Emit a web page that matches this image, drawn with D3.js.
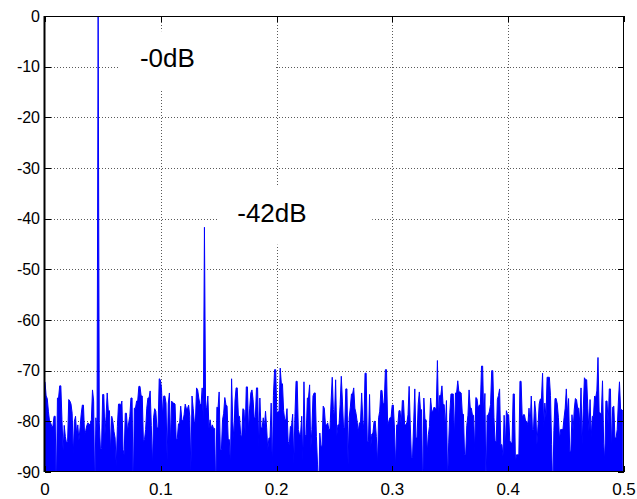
<!DOCTYPE html>
<html>
<head>
<meta charset="utf-8">
<script src="https://cdn.jsdelivr.net/npm/d3@7"></script>
<style>
  body { margin: 0; background: #fff; }
  text { font-family: Arial, "Liberation Sans", Helvetica, sans-serif; fill: #000; }
</style>
</head>
<body>
<script>
let width = 637;
let height = 499;

// spectrum in dB, 512 bins over normalized frequency 0..0.5 (bin k at k/1024)
let spectrumDb = [
  -72.2,-75,-75.5,-78,-80,-80.3,-81,-81,-79,-79,-95,-75.4,-75.4,-73,-73,-79.7,
  -85.8,-80.8,-83,-84.3,-84,-75.7,-76,-76.6,-78.4,-86.6,-80,-79,-82.6,-80.7,-83.8,-81.3,
  -78.6,-76.8,-76.8,-82.6,-81.8,-80.8,-80.3,-80.7,-80.5,-79.7,-73.8,-76,-95,-79.3,-82,0,
  -80.3,-85.4,-85.3,-74.7,-74.7,-82.6,-79,-74.4,-77.9,-77.9,-86.3,-79,-80,-82,-83.3,-88.9,
  -81,-76.6,-76.6,-76.8,-76,-85.6,-86.6,-78.4,-78.4,-82,-80.3,-79,-75.4,-75.4,-95,-77.4,
  -77.4,-76,-75.9,-73.1,-73.1,-75,-75,-84,-83.6,-81.6,-77.4,-75.4,-75.4,-74,-80.8,-89,
  -79.3,-77.5,-78,-81.3,-81.3,-71.6,-71.8,-73.4,-79,-75,-75,-76.4,-87.8,-76.6,-74.4,-84.6,
  -76,-76.4,-76.4,-76.6,-83.6,-83.4,-80.5,-80.5,-77,-79.7,-80,-78.7,-76.6,-77.5,-77.5,-76.8,
  -79,-90,-75,-77.4,-80,-80.3,-73.4,-73.8,-75.4,-76.7,-76.7,-73.4,-80,-41.7,-77.4,-77.2,
  -75,-81.4,-79.7,-81.4,-80.7,-81.4,-81.4,-95,-77.2,-77.4,-74.2,-85.6,-85.6,-79.7,-78.4,-75.3,
  -76.7,-77,-83.6,-83.6,-89,-71.6,-80,-83.3,-76,-73.4,-73.4,-79,-79,-82.6,-83.3,-77.5,
  -77.7,-82.3,-73.2,-73.2,-82,-77.4,-74.4,-73.8,-75.7,-79.3,-79.3,-73.4,-73.4,-85.3,-75.4,-81.3,
  -81.3,-79.3,-81.2,-78,-81.3,-85.6,-83.3,-83.3,-76.4,-90,-74.9,-69.8,-69.8,-78.2,-78.2,-78,
  -69.5,-72.6,-72.6,-77.9,-79.7,-79.7,-77.5,-84,-84.6,-81,-81,-78.6,-88.4,-79,-72.1,-72.1,
  -81.6,-82.6,-82.6,-79,-87.9,-72.2,-83,-82.6,-75.4,-75.4,-72.8,-85.6,-81.6,-75,-74.4,-74.4,
  -83,-88.6,-95,-82.3,-84.9,-84.9,-77,-77.4,-80.7,-80.7,-80.3,-81.6,-81.6,-76,-71.3,-77.7,
  -79.2,-71.8,-83,-80.7,-80.7,-76.7,-71.1,-76,-81.3,-81.3,-73.6,-73.6,-88.6,-79.3,-77.2,-74.6,
  -74.6,-73.4,-77.4,-78.4,-80,-82.1,-80.3,-80.3,-74.4,-79.7,-81.6,-70.5,-70.5,-84,-84,-74.7,
  -85.3,-82.5,-82.3,-80,-80,-83,-88.6,-79.3,-78,-73.9,-73.9,-76.6,-76.4,-69.8,-69.8,-80.7,
  -80,-79.3,-79.3,-76.8,-76.8,-81.3,-89.2,-80.7,-80.7,-77.9,-77.9,-80.7,-75.9,-75.9,-80.7,-80.7,
  -80.3,-78.7,-73.1,-80.7,-87.2,-87.2,-80.3,-73.6,-83.3,-83.3,-76.7,-74.2,-77.7,-77.7,-95,-75.4,
  -79.7,-79.7,-86.3,-82.6,-81,-75.4,-78,-78,-77.2,-77.4,-77.4,-68,-79.3,-74.9,-74.9,-73,
  -76.7,-76.7,-81.4,-75.9,-92,-84.1,-78.2,-74.6,-74.6,-74.6,-83.3,-74.4,-74.4,-72,-74.2,-74.2,
  -74.4,-78.4,-78.6,-86.6,-86.6,-80.8,-78.8,-73.8,-77.2,-77.4,-78.8,-78.8,-86,-75.3,-75.5,-77.4,
  -76.8,-76.8,-69.1,-69.1,-80,-74.5,-95,-78.8,-78.8,-78,-76.7,-70,-70,-79.2,-84,-84,
  -75.7,-74.9,-73.6,-84.6,-84.6,-86.9,-78.8,-85.6,-77.9,-78.7,-78.7,-83.8,-84.3,-84.3,-74.6,-74.6,
  -88,-86.6,-86.6,-86.6,-72.1,-72.1,-79.3,-78.7,-78.7,-80,-80,-80.7,-77.4,-80.7,-75,-81.6,
  -81.6,-76,-78.4,-84.6,-80.7,-76.6,-75.6,-75.6,-70.5,-81.3,-76.4,-79.3,-71.3,-71.3,-71.3,-74.9,
  -84.6,-95,-81.8,-75.5,-75.5,-76.6,-79.3,-83.6,-81.6,-81.6,-81.6,-79.3,-77.4,-73.6,-78.6,-75.5,
  -85.9,-85.9,-78.7,-81.8,-77.7,-75.5,-75.7,-77.4,-77.4,-80.7,-73.4,-84.6,-77.4,-71.4,-71.8,-71.8,
  -77.4,-82,-75.7,-83.2,-79,-79,-75,-75.3,-74,-67.4,-78.2,-78.4,-78.4,-72,-84.3,-87.9,
  -76,-76,-80.7,-73.6,-73.6,-85.6,-77.2,-77,-83.3,-83.3,-81.6,-76.2,-72.2,-77.7,-77.7,-78
];
let fftSize = 1024;

let xTicks = [0, 0.1, 0.2, 0.3, 0.4, 0.5];
let yTicks = [0, -10, -20, -30, -40, -50, -60, -70, -80, -90];

// peak annotations
let noteText = ["-0dB", "-42dB"];
let noteFreq = [0.082, 0.166];
let noteDb = [-10.1, -40.6];

let svg = d3.select("body").append("svg")
            .attr("width", width)
            .attr("height", height);

let x = d3.scaleLinear().domain([0, 0.5]).range([45, 624]);
let y = d3.scaleLinear().domain([-90, 0]).range([472, 16]);

let data = spectrumDb.map(function (v, i) { return { f: i / fftSize, db: v }; });

svg.append("defs").append("clipPath")
   .attr("id", "plotclip")
   .append("rect")
   .attr("x", 45).attr("y", 16)
   .attr("width", 579).attr("height", 456);

// dotted grid
let grid = svg.append("g").attr("stroke", "#5a5a5a").attr("stroke-width", 1)
              .attr("stroke-dasharray", "1,2");
grid.selectAll(".gx").data(xTicks.slice(1, -1)).enter().append("line")
    .attr("x1", function (d) { return Math.round(x(d)) + 0.5; })
    .attr("x2", function (d) { return Math.round(x(d)) + 0.5; })
    .attr("y1", 16).attr("y2", 472);
grid.selectAll(".gy").data(yTicks.slice(1, -1)).enter().append("line")
    .attr("y1", function (d) { return Math.round(y(d)) + 0.5; })
    .attr("y2", function (d) { return Math.round(y(d)) + 0.5; })
    .attr("x1", 45).attr("x2", 624);

// annotation text with white backing that hides the grid
let notes = svg.append("g");
noteText.forEach(function (t, i) {
  let g = notes.append("g");
  let bg = g.append("rect").attr("fill", "#fff");
  let txt = g.append("text")
             .attr("x", x(noteFreq[i]))
             .attr("y", y(noteDb[i]))
             .attr("font-size", 26)
             .text(t);
  let bb = txt.node().getBBox();
  bg.attr("x", bb.x - 20).attr("y", bb.y - 12)
    .attr("width", 155).attr("height", bb.height + 29);
});

// spectrum: filled trace down to the bottom of the axes, plus the line itself
let plot = svg.append("g").attr("clip-path", "url(#plotclip)");
let area = d3.area()
             .x(function (d) { return x(d.f); })
             .y0(y(-90) + 2)
             .y1(function (d) { return y(d.db); });
plot.append("path").datum(data)
    .attr("d", area)
    .attr("fill", "#0000ff");
let line = d3.line()
             .x(function (d) { return x(d.f); })
             .y(function (d) { return y(d.db); });
plot.append("path").datum(data)
    .attr("d", line)
    .attr("fill", "none")
    .attr("stroke", "#0000ff")
    .attr("stroke-width", 1);

// axes box
svg.append("rect")
   .attr("x", 44.5).attr("y", 16.5)
   .attr("width", 579).attr("height", 455)
   .attr("fill", "none").attr("stroke", "#000").attr("stroke-width", 1);
svg.append("line").attr("x1", 44.5).attr("x2", 44.5).attr("y1", 16).attr("y2", 472)
   .attr("stroke", "#000").attr("stroke-width", 2);

// inward ticks on all four sides
let ticks = svg.append("g").attr("stroke", "#000").attr("stroke-width", 1);
yTicks.forEach(function (d) {
  let yy = Math.round(y(d)) + 0.5;
  ticks.append("line").attr("x1", 45).attr("x2", 51).attr("y1", yy).attr("y2", yy);
  ticks.append("line").attr("x1", 618).attr("x2", 624).attr("y1", yy).attr("y2", yy);
});
xTicks.forEach(function (d) {
  let xx = Math.round(x(d)) + 0.5;
  ticks.append("line").attr("x1", xx).attr("x2", xx).attr("y1", 466).attr("y2", 472);
  ticks.append("line").attr("x1", xx).attr("x2", xx).attr("y1", 16).attr("y2", 22);
});

// tick labels
svg.append("g").selectAll("text").data(yTicks).enter().append("text")
   .attr("x", 40)
   .attr("y", function (d) { return y(d) + 5.5; })
   .attr("text-anchor", "end")
   .attr("font-size", 16)
   .text(function (d) { return d; });
svg.append("g").selectAll("text").data(xTicks).enter().append("text")
   .attr("x", function (d) { return x(d); })
   .attr("y", 495)
   .attr("text-anchor", "middle")
   .attr("font-size", 17)
   .text(function (d) { return d; });
</script>
</body>
</html>
